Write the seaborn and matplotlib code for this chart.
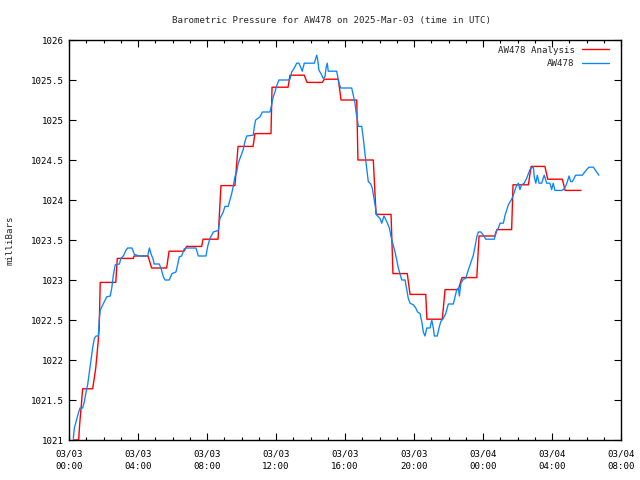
import matplotlib
matplotlib.use("Agg")
import matplotlib.pyplot as plt
from matplotlib.ticker import MultipleLocator
import pandas as pd
import seaborn as sns

# Analysis (hourly-ish stepped series): vertices, time in hours since 03/03 00:00 UTC
analysis_hours = [0.25, 0.56, 0.62, 0.72, 0.79, 1.37, 1.45, 1.55, 1.68, 1.75, 1.81, 2.71,
                  2.80, 3.73, 3.77, 4.58, 4.79, 5.66, 5.80, 6.67, 6.82, 7.69, 7.77, 8.64,
                  8.81, 9.62, 9.80, 10.67, 10.78, 11.71, 11.77, 12.70, 12.81, 13.64, 13.80, 14.69,
                  14.80, 15.61, 15.77, 16.68, 16.75, 17.64, 17.80, 18.67, 18.78, 19.61, 19.77, 20.68,
                  20.75, 21.64, 21.80, 22.57, 22.78, 23.64, 23.77, 24.70, 24.81, 25.66, 25.74, 26.63,
                  26.79, 27.59, 27.75, 28.60, 28.76, 29.68]
analysis_mb = [1021.00, 1021.00, 1021.20, 1021.45, 1021.64, 1021.64, 1021.75, 1021.90, 1022.20, 1022.40, 1022.97, 1022.97,
               1023.27, 1023.27, 1023.30, 1023.30, 1023.15, 1023.15, 1023.36, 1023.36, 1023.42, 1023.42, 1023.51, 1023.51,
               1024.18, 1024.18, 1024.67, 1024.67, 1024.83, 1024.83, 1025.41, 1025.41, 1025.56, 1025.56, 1025.47, 1025.47,
               1025.51, 1025.51, 1025.25, 1025.25, 1024.50, 1024.50, 1023.82, 1023.82, 1023.08, 1023.08, 1022.82, 1022.82,
               1022.51, 1022.51, 1022.88, 1022.88, 1023.03, 1023.03, 1023.55, 1023.55, 1023.63, 1023.63, 1024.19, 1024.19,
               1024.42, 1024.42, 1024.26, 1024.26, 1024.12, 1024.12]

# Station observations
obs_hours = [0.25, 0.31, 0.41, 0.56, 0.64, 0.79, 0.89, 0.99, 1.08, 1.18, 1.28, 1.37, 1.47, 1.57, 1.70, 1.76,
             1.81, 1.91, 2.05, 2.19, 2.39, 2.48, 2.57, 2.68, 2.92, 3.01, 3.15, 3.30, 3.40, 3.65, 3.79, 4.08,
             4.56, 4.66, 4.75, 4.89, 4.94, 5.23, 5.33, 5.47, 5.57, 5.81, 5.97, 6.20, 6.32, 6.39, 6.53, 6.68,
             6.82, 7.36, 7.50, 7.94, 8.04, 8.17, 8.37, 8.66, 8.75, 8.85, 8.94, 9.04, 9.23, 9.33, 9.43, 9.52,
             9.62, 9.72, 9.81, 9.91, 10.01, 10.10, 10.20, 10.30, 10.68, 10.74, 10.82, 11.07, 11.21, 11.65, 11.75, 11.84,
             11.94, 12.04, 12.17, 12.71, 12.81, 12.91, 13.06, 13.20, 13.33, 13.45, 13.52, 13.64, 14.22, 14.30, 14.36, 14.42,
             14.49, 14.61, 14.74, 14.84, 14.90, 14.97, 15.03, 15.52, 15.58, 15.65, 15.75, 16.39, 16.48, 16.58, 16.64, 16.71,
             16.77, 16.97, 17.06, 17.12, 17.20, 17.28, 17.35, 17.49, 17.58, 17.68, 17.74, 17.84, 18.03, 18.13, 18.26, 18.42,
             18.57, 18.67, 18.90, 19.00, 19.09, 19.29, 19.48, 19.58, 19.67, 19.77, 19.96, 20.10, 20.21, 20.35, 20.45, 20.54,
             20.64, 20.74, 20.93, 21.03, 21.12, 21.18, 21.35, 21.45, 21.55, 21.70, 21.84, 21.99, 22.28, 22.38, 22.48, 22.57,
             22.63, 22.72, 22.86, 23.00, 23.11, 23.25, 23.34, 23.44, 23.54, 23.64, 23.73, 23.88, 24.02, 24.16, 24.66, 24.74,
             24.89, 24.99, 25.18, 25.28, 25.37, 25.47, 25.66, 25.76, 25.86, 25.95, 26.05, 26.14, 26.24, 26.39, 26.53, 26.63,
             26.72, 26.82, 26.92, 26.97, 27.06, 27.15, 27.25, 27.40, 27.55, 27.69, 27.88, 27.98, 28.07, 28.17, 28.56, 28.66,
             28.79, 28.89, 28.99, 29.08, 29.18, 29.28, 29.37, 29.76, 29.86, 30.01, 30.14, 30.40, 30.49, 30.59, 30.72]
obs_mb = [1021.02, 1021.15, 1021.23, 1021.35, 1021.40, 1021.40, 1021.48, 1021.60, 1021.69, 1021.85, 1022.02, 1022.15, 1022.27, 1022.30, 1022.30, 1022.52,
          1022.62, 1022.67, 1022.73, 1022.79, 1022.80, 1022.90, 1023.06, 1023.19, 1023.20, 1023.27, 1023.30, 1023.37, 1023.40, 1023.40, 1023.32, 1023.30,
          1023.30, 1023.40, 1023.33, 1023.25, 1023.20, 1023.20, 1023.15, 1023.04, 1023.00, 1023.00, 1023.08, 1023.10, 1023.21, 1023.29, 1023.30, 1023.39,
          1023.40, 1023.40, 1023.30, 1023.30, 1023.42, 1023.52, 1023.60, 1023.62, 1023.77, 1023.81, 1023.85, 1023.92, 1023.92, 1024.00, 1024.08, 1024.17,
          1024.29, 1024.35, 1024.46, 1024.52, 1024.58, 1024.63, 1024.73, 1024.80, 1024.81, 1024.91, 1025.00, 1025.04, 1025.10, 1025.10, 1025.19, 1025.29,
          1025.35, 1025.43, 1025.50, 1025.50, 1025.51, 1025.60, 1025.65, 1025.71, 1025.71, 1025.65, 1025.61, 1025.71, 1025.71, 1025.77, 1025.81, 1025.75,
          1025.62, 1025.58, 1025.52, 1025.54, 1025.65, 1025.71, 1025.61, 1025.61, 1025.54, 1025.46, 1025.40, 1025.40, 1025.31, 1025.21, 1025.10, 1025.02,
          1024.92, 1024.92, 1024.77, 1024.65, 1024.50, 1024.35, 1024.23, 1024.20, 1024.15, 1024.02, 1023.94, 1023.81, 1023.77, 1023.71, 1023.80, 1023.73,
          1023.65, 1023.54, 1023.35, 1023.25, 1023.15, 1023.00, 1023.00, 1022.88, 1022.77, 1022.71, 1022.69, 1022.65, 1022.60, 1022.58, 1022.48, 1022.35,
          1022.30, 1022.40, 1022.40, 1022.50, 1022.40, 1022.30, 1022.30, 1022.40, 1022.48, 1022.52, 1022.58, 1022.70, 1022.70, 1022.79, 1022.88, 1022.90,
          1022.80, 1022.96, 1023.01, 1023.02, 1023.10, 1023.19, 1023.25, 1023.31, 1023.42, 1023.54, 1023.60, 1023.60, 1023.56, 1023.51, 1023.51, 1023.60,
          1023.65, 1023.71, 1023.71, 1023.81, 1023.87, 1023.94, 1024.01, 1024.06, 1024.13, 1024.18, 1024.21, 1024.13, 1024.19, 1024.21, 1024.27, 1024.33,
          1024.38, 1024.40, 1024.42, 1024.29, 1024.21, 1024.31, 1024.21, 1024.21, 1024.31, 1024.21, 1024.21, 1024.13, 1024.21, 1024.12, 1024.12, 1024.13,
          1024.17, 1024.23, 1024.30, 1024.23, 1024.23, 1024.27, 1024.31, 1024.31, 1024.34, 1024.38, 1024.41, 1024.41, 1024.38, 1024.35, 1024.31]

tick_hours = [0, 4, 8, 12, 16, 20, 24, 28, 32]
tick_labels = ["03/03\n00:00", "03/03\n04:00", "03/03\n08:00", "03/03\n12:00", "03/03\n16:00",
               "03/03\n20:00", "03/04\n00:00", "03/04\n04:00", "03/04\n08:00"]
y_ticks = [1021, 1021.5, 1022, 1022.5, 1023, 1023.5, 1024, 1024.5, 1025, 1025.5, 1026]
y_tick_labels = ["1021", "1021.5", "1022", "1022.5", "1023", "1023.5", "1024", "1024.5", "1025", "1025.5", "1026"]

title = "Barometric Pressure for AW478 on 2025-Mar-03 (time in UTC)"
series_names = ["AW478 Analysis", "AW478"]

FS = 6.6

sns.set_style("white")
plt.rcParams["font.family"] = ["DejaVu Sans Mono"]
plt.rcParams["font.size"] = FS

df_a = pd.DataFrame({"hours": analysis_hours, "mb": analysis_mb, "series": series_names[0]})
df_o = pd.DataFrame({"hours": obs_hours, "mb": obs_mb, "series": series_names[1]})

fig = plt.figure(figsize=(6.4, 4.8), dpi=100)
ax = fig.add_axes([69 / 640, 40 / 480, 552 / 640, 400 / 480])

sns.lineplot(data=df_a, x="hours", y="mb", sort=False, estimator=None, ax=ax,
             color="#ff0000", linewidth=1.0, label=series_names[0])
sns.lineplot(data=df_o, x="hours", y="mb", sort=False, estimator=None, ax=ax,
             color="#0a84ff", linewidth=0.95, label=series_names[1])

ax.set_xlim(0, 32)
ax.set_ylim(1021, 1026)
ax.set_xticks(tick_hours)
ax.set_xticklabels(tick_labels, linespacing=1.4)
ax.xaxis.set_minor_locator(MultipleLocator(1))
ax.set_yticks(y_ticks)
ax.set_yticklabels(y_tick_labels)
ax.tick_params(which="both", direction="in", top=True, right=True, bottom=True, left=True,
               color="black", width=0.8, labelsize=FS, labelcolor="black")
ax.tick_params(which="major", length=5)
ax.tick_params(which="minor", length=2.5)
ax.tick_params(axis="x", which="major", pad=7)
ax.tick_params(axis="y", which="major", pad=4)
for s in ax.spines.values():
    s.set_visible(True)
    s.set_color("black")
    s.set_linewidth(1.0)

ax.set_xlabel("")
ax.set_ylabel("milliBars", fontsize=FS)
ax.yaxis.set_label_coords(-0.098, 0.5)

fig.text(331 / 640, 1 - 20 / 480, title, ha="center", va="center", fontsize=FS)

leg = ax.legend(loc="upper right", bbox_to_anchor=(1 - 8 / 552, 1 - 2 / 400), frameon=False,
                markerfirst=False, handlelength=3.0, fontsize=FS, borderaxespad=0.0,
                labelspacing=0.45, handletextpad=0.8)

fig.savefig("out.png", dpi=100)
